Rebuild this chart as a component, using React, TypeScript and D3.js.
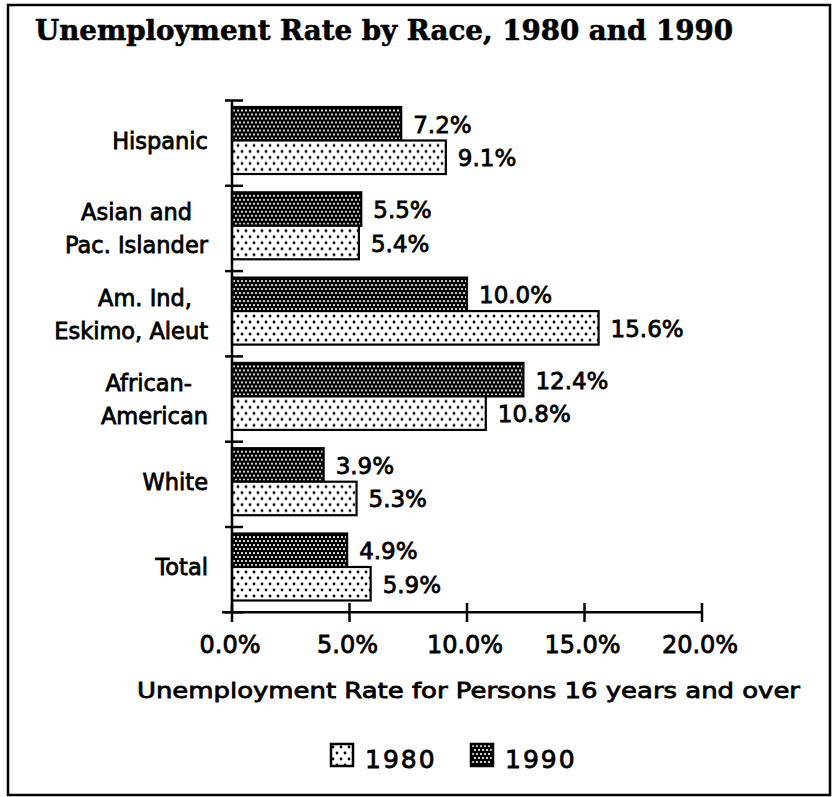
import React from "react";
import * as d3 from "d3";

const categories = ["Hispanic", "Asian and Pac. Islander", "Am. Ind, Eskimo, Aleut", "African-American", "White", "Total"];
const categoryLines = [["Hispanic"], ["Asian and", "Pac. Islander"], ["Am. Ind,", "Eskimo, Aleut"], ["African-", "American"], ["White"], ["Total"]];
const values1990 = [7.2, 5.5, 10.0, 12.4, 3.9, 4.9];
const values1980 = [9.1, 5.4, 15.6, 10.8, 5.3, 5.9];
const series = ["1990", "1980"];
const xTicks = [0, 5, 10, 15, 20];
const title = "Unemployment Rate by Race, 1980 and 1990";
const xTitle = "Unemployment Rate for Persons 16 years and over";
const legendItems = ["1980", "1990"];

const W = 833, H = 797;
const FONT = "'DejaVu Sans', Verdana, sans-serif";

export default function App() {
  const x = d3.scaleLinear().domain([0, 20]).range([232, 702]);
  const y = d3.scaleBand().domain(categories).range([100.5, 612.3]).paddingInner(0).paddingOuter(0);
  const bw = y.bandwidth();
  const inner = d3.scaleBand().domain(series).range([6.5, 73.5]);
  const fmt = (v: number) => d3.format(".1f")(v) + "%";
  const fill = (s: string) => (s === "1990" ? "url(#pDark)" : "url(#pLight)");
  const rows = categories.map((c, i) => ({ c, lines: categoryLines[i], v: { "1990": values1990[i], "1980": values1980[i] } as Record<string, number> }));
  const textStyle = { fontFamily: FONT, fill: "#000", stroke: "#000", strokeWidth: 0.8 } as React.CSSProperties;

  return (
    <svg width={W} height={H} style={{ position: "absolute", left: 0, top: 0, background: "#fff" }}>
      <defs>
        <pattern id="pDark" width={8} height={8} patternUnits="userSpaceOnUse">
          <rect width={8} height={8} fill="#000" />
          <circle cx={2} cy={2} r={1.1} fill="#fff" />
          <circle cx={6} cy={2} r={1.1} fill="#fff" />
          <circle cx={4} cy={6} r={1.1} fill="#fff" />
          <circle cx={0} cy={6} r={1.1} fill="#fff" />
          <circle cx={8} cy={6} r={1.1} fill="#fff" />
        </pattern>
        <pattern id="pLight" width={8} height={12} patternUnits="userSpaceOnUse">
          <rect width={8} height={12} fill="#fff" />
          <circle cx={2} cy={3} r={1.4} fill="#000" />
          <circle cx={6} cy={9} r={1.4} fill="#000" />
        </pattern>
      </defs>
      <rect x={0} y={0} width={W} height={H} fill="#fff" />
      <rect x={8} y={5} width={822} height={790} fill="none" stroke="#000" strokeWidth={2.5} />
      <text x={35} y={40} textLength={698} lengthAdjust="spacingAndGlyphs"
        style={{ fontFamily: "'DejaVu Serif', serif", fontWeight: 700, fontSize: 28, fill: "#000", stroke: "#000", strokeWidth: 0.6 }}>{title}</text>

      {/* bars */}
      {rows.map((r) => (
        <g key={r.c} transform={`translate(0,${y(r.c)})`}>
          {series.map((s) => (
            <g key={s}>
              <rect x={x(0)} y={inner(s)} width={x(r.v[s]) - x(0)} height={inner.bandwidth()}
                fill={fill(s)} stroke="#000" strokeWidth={2.2} />
              <text x={x(r.v[s]) + 12} y={(inner(s) as number) + inner.bandwidth() / 2 + 9}
                style={{ ...textStyle, fontSize: 23 }}>{fmt(r.v[s])}</text>
            </g>
          ))}
          {r.lines.length === 1 ? (
            <text x={208} y={bw / 2 + 5.5} textAnchor="end" style={{ ...textStyle, fontSize: 22.5 }}>{r.lines[0]}</text>
          ) : (
            <>
              <text x={192} y={bw / 2 - 8} textAnchor="end" style={{ ...textStyle, fontSize: 22.5 }}>{r.lines[0]}</text>
              <text x={208} y={bw / 2 + 25} textAnchor="end" style={{ ...textStyle, fontSize: 22.5 }}>{r.lines[1]}</text>
            </>
          )}
        </g>
      ))}

      {/* y axis */}
      <line x1={x(0)} x2={x(0)} y1={100.5} y2={612.3} stroke="#000" strokeWidth={2.5} />
      {[...categories.map((c) => y(c) as number), 612.3].map((t, i) => (
        <line key={i} x1={225} x2={243} y1={t} y2={t} stroke="#000" strokeWidth={2.5} />
      ))}

      {/* x axis */}
      <line x1={222} x2={x(20)} y1={612.3} y2={612.3} stroke="#000" strokeWidth={2.5} />
      {xTicks.map((t) => (
        <g key={t}>
          <line x1={x(t)} x2={x(t)} y1={603} y2={622} stroke="#000" strokeWidth={2.5} />
          <text x={x(t) - 2} y={653} textAnchor="middle" style={{ ...textStyle, fontSize: 24 }}>{fmt(t)}</text>
        </g>
      ))}
      <text x={137} y={698} textLength={663} lengthAdjust="spacingAndGlyphs" style={{ ...textStyle, fontSize: 22 }}>{xTitle}</text>

      {/* legend */}
      {legendItems.map((s, i) => (
        <g key={s} transform={`translate(${331 + i * 140},744)`}>
          <rect x={0} y={0} width={22} height={22} fill={fill(s)} stroke="#000" strokeWidth={2.5} />
          <text x={34} y={24} style={{ ...textStyle, fontSize: 25, letterSpacing: 2 }}>{s}</text>
        </g>
      ))}
    </svg>
  );
}
